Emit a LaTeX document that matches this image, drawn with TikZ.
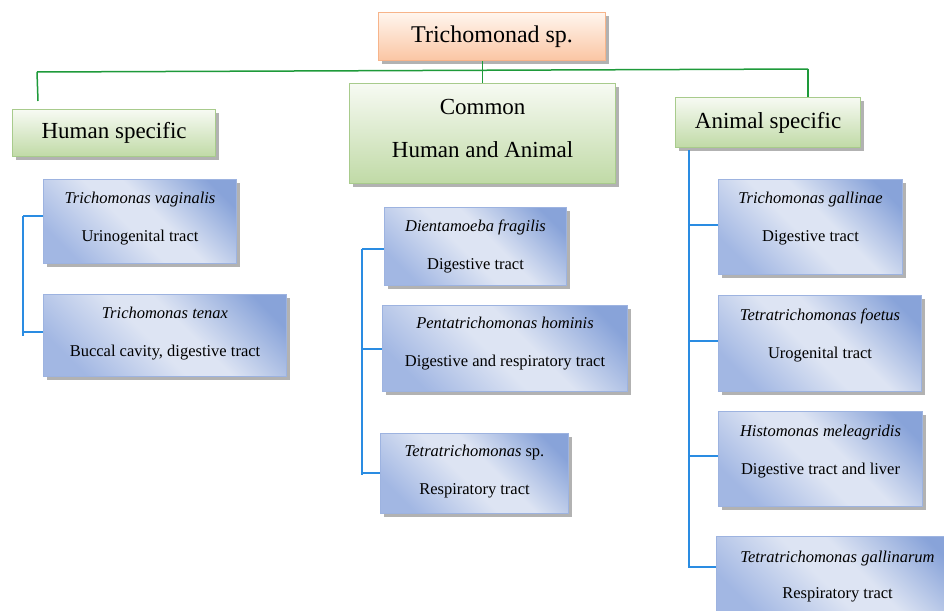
\documentclass[tikz,border=0pt]{standalone}
\usepackage{fontspec}
\setmainfont{Liberation Serif}
\usetikzlibrary{shadows}
\definecolor{gline}{HTML}{1E9A3A}
\definecolor{bline}{HTML}{2A8CE2}
\definecolor{bbord}{HTML}{9DB3E0}
\definecolor{bdark}{HTML}{88A3D9}
\definecolor{blight}{HTML}{DDE4F3}
\definecolor{bbot}{HTML}{A2B7E3}
\definecolor{gbord}{HTML}{A8CB8C}
\definecolor{gtop}{HTML}{F7FAF3}
\definecolor{gbot}{HTML}{C0DAA6}
\definecolor{obord}{HTML}{F7B48A}
\definecolor{otop}{HTML}{FFF5EE}
\definecolor{obot}{HTML}{FBC5A3}
\pgfdeclareverticalshading{bluediag}{100bp}{color(0bp)=(bbot); color(24bp)=(bbot); color(46bp)=(blight); color(56bp)=(blight); color(78bp)=(bdark); color(100bp)=(bdark)}
\tikzset{
  boxshadow/.style={drop shadow={shadow xshift=3pt, shadow yshift=-3pt, fill=black, opacity=0.3}},
  bluebox/.style={draw=bbord, line width=1pt, shade, shading=bluediag,
    shading angle=-45, boxshadow, anchor=north west, align=center, inner sep=0pt,
    font=\fontsize{16.5}{38}\selectfont},
  greenbox/.style={draw=gbord, line width=1.2pt, top color=gtop, bottom color=gbot, boxshadow,
    anchor=north west, align=center, inner sep=0pt, font=\fontsize{23}{43}\selectfont},
  orangebox/.style={draw=obord, line width=1.2pt, top color=otop, bottom color=obot, boxshadow,
    anchor=north west, align=center, inner sep=0pt, font=\fontsize{24}{28}\selectfont},
  greenline/.style={draw=gline, line width=1.5pt},
  blueline/.style={draw=bline, line width=1.5pt},
}
\begin{document}
\begin{tikzpicture}[x=1pt, y=-1pt]
\useasboundingbox[fill=white] (0,0) rectangle (944,610);

% top
\node[orangebox, minimum width=227pt, minimum height=48pt] (top) at (378,12) {Trichomonad sp.};
% categories
\node[greenbox, minimum width=203pt, minimum height=47pt] (human) at (12,109) {Human specific};
\node[greenbox, minimum width=266pt, minimum height=100pt, text depth=10pt] (common) at (349,83) {Common\\Human and Animal};
\node[greenbox, minimum width=185pt, minimum height=50pt] (animal) at (675,97) {Animal specific};

% human specific
\node[bluebox, minimum width=193pt, minimum height=84pt, text depth=8.5pt] (tv) at (43,179) {\textit{Trichomonas vaginalis}\\Urinogenital tract};
\node[bluebox, minimum width=243pt, minimum height=82pt, text depth=7.5pt] (tt) at (43,294) {\textit{Trichomonas tenax}\\Buccal cavity, digestive tract};

% common
\node[bluebox, minimum width=182pt, minimum height=78pt] (df) at (384,207) {\textit{Dientamoeba fragilis}\\Digestive tract};
\node[bluebox, minimum width=245pt, minimum height=86pt, text depth=13.5pt] (ph) at (382,305) {\textit{Pentatrichomonas hominis}\\Digestive and respiratory tract};
\node[bluebox, minimum width=188pt, minimum height=80pt, text depth=6.5pt] (ts) at (380,433) {\textit{Tetratrichomonas} sp.\\Respiratory tract};

% animal
\node[bluebox, minimum width=184pt, minimum height=95pt, text depth=19.5pt] (tg) at (718,179) {\textit{Trichomonas gallinae}\\Digestive tract};
\node[bluebox, minimum width=203pt, minimum height=96pt, text depth=19.5pt] (tf) at (718,295) {\textit{Tetratrichomonas foetus}\\Urogenital tract};
\node[bluebox, minimum width=204pt, minimum height=95pt, text depth=17.5pt] (hm) at (718,411) {\textit{Histomonas meleagridis}\\Digestive tract and liver};
\node[bluebox, minimum width=242pt, minimum height=80pt] (tgl) at (716,536) {\textit{Tetratrichomonas gallinarum}\\[-2pt]Respiratory tract};

% green connectors
\coordinate (gl) at (37,72);
\coordinate (gr) at (808,69);
\coordinate (gld) at (38,101);
\draw[greenline] (gl) -- (gr);
\draw[greenline] (common.north |- top.south) -- (common.north);
\draw[greenline] (gl) -- (gld);
\draw[greenline] (gr) -- (gr |- animal.north);

% left blue
\coordinate (l1) at (23,216);
\coordinate (l2) at (23,332);
\coordinate (lb) at (23,336);
\draw[blueline] (l1) -- (lb);
\draw[blueline] (l1) -- (l1 -| tv.west);
\draw[blueline] (l2) -- (l2 -| tt.west);

% middle blue
\coordinate (m1) at (362,249);
\coordinate (m2) at (362,349);
\coordinate (m3) at (362,473);
\coordinate (mb) at (362,475);
\draw[blueline] (m1) -- (mb);
\draw[blueline] (m1) -- (m1 -| df.west);
\draw[blueline] (m2) -- (m2 -| ph.west);
\draw[blueline] (m3) -- (m3 -| ts.west);

% right blue
\coordinate (r0) at (689,150);
\coordinate (r1) at (689,225);
\coordinate (r2) at (689,341);
\coordinate (r3) at (689,456);
\coordinate (r4) at (689,567);
\coordinate (rb) at (689,568);
\draw[blueline] (r0) -- (rb);
\draw[blueline] (r1) -- (r1 -| tg.west);
\draw[blueline] (r2) -- (r2 -| tf.west);
\draw[blueline] (r3) -- (r3 -| hm.west);
\draw[blueline] (r4) -- (r4 -| tgl.west);
\end{tikzpicture}
\end{document}
